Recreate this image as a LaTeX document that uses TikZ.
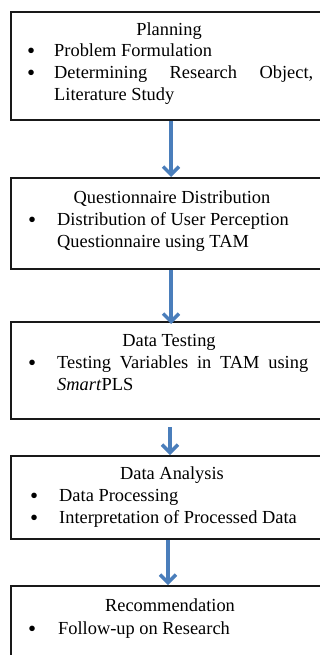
\documentclass[tikz,border=0pt]{standalone}
\usepackage{fontspec}
\setmainfont{Liberation Serif}
\usetikzlibrary{arrows.meta}
\definecolor{arrblue}{RGB}{74,126,187}
\begin{document}
\begin{tikzpicture}[x=1pt,y=-1pt,
  box/.style={draw=black!90, line width=2pt, rectangle, anchor=north, inner sep=0pt, minimum width=320pt},
  txt/.style={inner sep=0pt, anchor=base west, font=\fontsize{18.4}{22}\selectfont},
  bul/.style={inner sep=0pt, anchor=base west, font=\fontsize{23}{22}\selectfont},
  ttl/.style={inner sep=0pt, anchor=base, font=\fontsize{18.4}{22}\selectfont},
  arr/.style={draw=arrblue, line width=3.5pt, -{Straight Barb[length=8pt,width=16pt]}}]
\useasboundingbox (0,0) rectangle (320,655);
\clip (0,0) rectangle (320,655);
% boxes
\node[box, minimum height=108pt] (b1) at (171,11) {};
\node[box, minimum height=91pt]  (b2) at (171,177) {};
\node[box, minimum height=97pt]  (b3) at (171,321) {};
\node[box, minimum height=83pt]  (b4) at (171,455) {};
\node[box, minimum height=120pt] (b5) at (171,585) {};
% box 1
\node[ttl] (t1) at (169,36) {Planning};
\node[bul] (t1b1) at (27,59) {\textbullet};
\node[txt] (t1i1) at (54,57) {Problem Formulation};
\node[bul] (t1b2) at (27,81) {\textbullet};
\node[txt] (t1i2) at (54,79) {\parbox[t]{259pt}{\fontsize{18.4}{22}\selectfont Determining Research Object,\linebreak Literature Study}};
% box 2
\node[ttl] (t2) at (172,203) {Questionnaire Distribution};
\node[bul] (t2b1) at (28,227) {\textbullet};
\node[txt] (t2i1) at (57,225) {\parbox[t]{260pt}{\raggedright\fontsize{18.4}{22}\selectfont Distribution of User Perception\\ Questionnaire using TAM}};
% box 3
\node[ttl] (t3) at (169,346) {Data Testing};
\node[bul] (t3b1) at (28,370) {\textbullet};
\node[txt] (t3i1) at (57,368) {\parbox[t]{251pt}{\fontsize{18.4}{22}\selectfont Testing Variables in TAM using\linebreak \textit{Smart}PLS}};
% box 4
\node[ttl] (t4) at (172,479) {Data Analysis};
\node[bul] (t4b1) at (30,503) {\textbullet};
\node[txt] (t4i1) at (59,501) {Data Processing};
\node[bul] (t4b2) at (30,525) {\textbullet};
\node[txt] (t4i2) at (59,523) {Interpretation of Processed Data};
% box 5
\node[ttl] (t5) at (170,611) {Recommendation};
\node[bul] (t5b1) at (28,636) {\textbullet};
\node[txt] (t5i1) at (58,634) {Follow-up on Research};
% arrows
\draw[arr] (b1.south) -- (b2.north);
\draw[arr] (b2.south) -- ([yshift=-3pt]b3.north);
\draw[arr] ([xshift=-1pt,yshift=-7pt]b3.south) -- ([xshift=-1pt]b4.north);
\draw[arr] ([xshift=-3pt]b4.south) -- ([xshift=-3pt]b5.north);
\end{tikzpicture}
\end{document}
